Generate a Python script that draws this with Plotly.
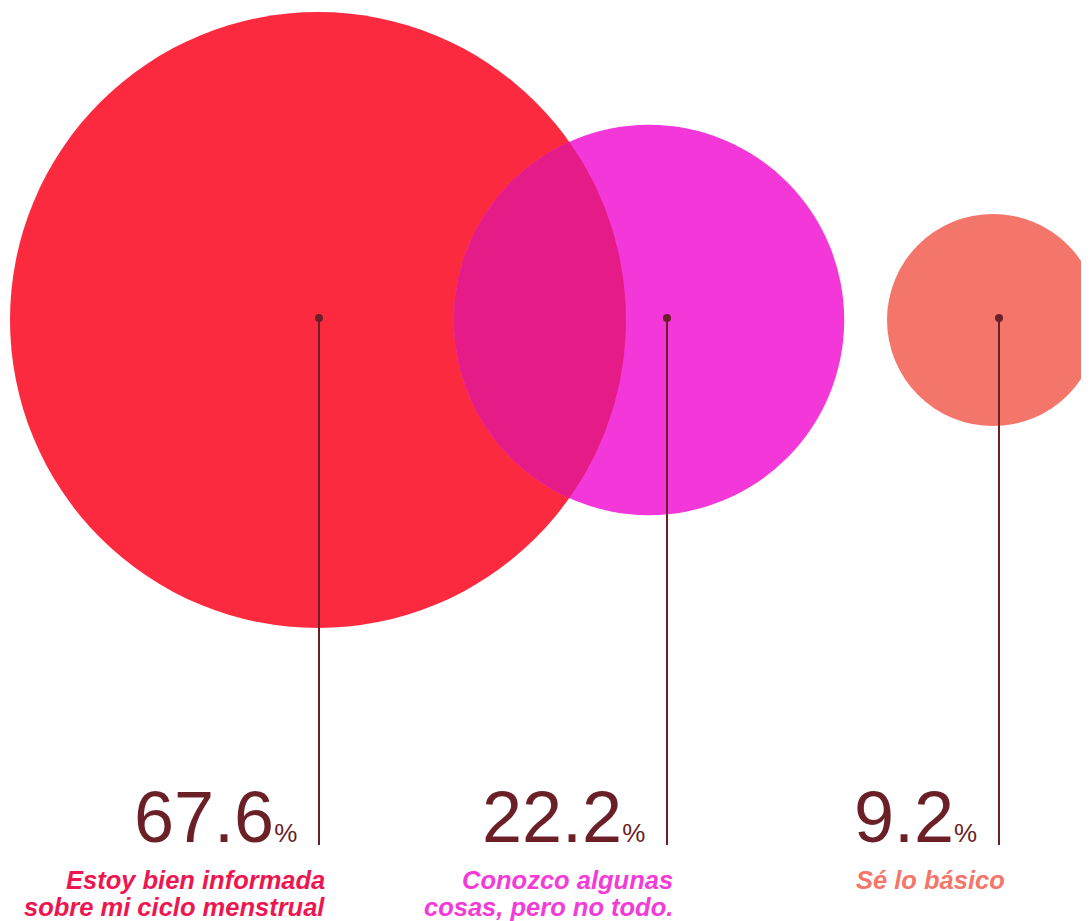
import math
import plotly.graph_objects as go

# ---- data ----
categories = ["Estoy bien informada<br>sobre mi ciclo menstrual",
              "Conozco algunas<br>cosas, pero no todo.",
              "Sé lo básico"]
values = [67.6, 22.2, 9.2]
value_labels = ["67.6", "22.2", "9.2"]

# ---- styles / layout constants ----
W, H = 1089, 921
PAGE_MARGIN = 8  # default body margin of the html page
circle_colors = ["#FC2A3F", "#F437D8", "#F4756A"]
overlap_color = "#E51C88"
label_colors = ["#EE1650", "#F43BD8", "#F4766A"]
dark = "#6B1F27"
circle_cx = [318, 649, 993]
circle_cy = 320
stem_x = [319, 667, 999]
stem_top = 318
stem_bottom = 845
label_y = 896
label_line_gap = 27

# log radius scale (domain -> px range)
dmin, dmax = min(values), max(values)
rmin, rmax = 106, 308


def radius(v):
    t = (math.log(v) - math.log(dmin)) / (math.log(dmax) - math.log(dmin))
    return rmin + t * (rmax - rmin)


def arc(cx, cy, r, a0, a1, n=120):
    pts = []
    for k in range(n + 1):
        a = a0 + (a1 - a0) * k / n
        pts.append((cx + r * math.cos(a), cy + r * math.sin(a)))
    return pts


fig = go.Figure()

radii = [radius(v) for v in values]
for i, v in enumerate(values):
    fig.add_trace(go.Scatter(
        x=[circle_cx[i]], y=[circle_cy], mode="markers",
        marker=dict(size=2 * radii[i], sizemode="diameter", color=circle_colors[i],
                    line=dict(width=0)),
        hoverinfo="skip", showlegend=False))

# overlap (lens) between first two circles
x1, x2 = circle_cx[0], circle_cx[1]
r1, r2 = radii[0], radii[1]
d = x2 - x1
a = (d * d - r2 * r2 + r1 * r1) / (2 * d)
h = math.sqrt(max(r1 * r1 - a * a, 0))
t1 = math.atan2(h, a)             # angle on circle 1 to intersection
t2 = math.atan2(h, a - d)         # angle on circle 2 to intersection
pts = arc(x1, circle_cy, r1, -t1, t1) + arc(x2, circle_cy, r2, t2, 2 * math.pi - t2)
fig.add_trace(go.Scatter(
    x=[p[0] for p in pts], y=[p[1] for p in pts], mode="lines", fill="toself",
    fillcolor=overlap_color, line=dict(width=0, color=overlap_color),
    hoverinfo="skip", showlegend=False))

for i, v in enumerate(values):
    fig.add_trace(go.Scatter(
        x=[stem_x[i], stem_x[i]], y=[stem_top, stem_bottom], mode="lines",
        line=dict(color=dark, width=2), hoverinfo="skip", showlegend=False))
    fig.add_trace(go.Scatter(
        x=[stem_x[i]], y=[stem_top], mode="markers",
        marker=dict(size=8, color=dark, line=dict(width=0)),
        hoverinfo="skip", showlegend=False))

annotations = []
for i, v in enumerate(values):
    annotations.append(dict(
        x=stem_x[i] - 20, y=stem_bottom + 14, xref="x", yref="y",
        xanchor="right", yanchor="bottom", showarrow=False,
        text=value_labels[i] + "<span style='font-size:26px'>%</span>",
        font=dict(family="Liberation Sans, Arial", size=72, color=dark)))
    lines = categories[i].split("<br>")
    for j, line in enumerate(lines):
        annotations.append(dict(
            x=stem_x[i] + 8, y=label_y, xref="x", yref="y",
            yshift=-label_line_gap * j,
            xanchor="right", yanchor="bottom", showarrow=False,
            text=line,
            font=dict(family="Liberation Sans, Arial", size=25.5,
                      color=label_colors[i], weight="bold", style="italic")))

fig.update_layout(
    width=W - PAGE_MARGIN, height=H - PAGE_MARGIN,
    margin=dict(l=0, r=0, t=0, b=0),
    paper_bgcolor="white", plot_bgcolor="white",
    xaxis=dict(range=[PAGE_MARGIN, W], visible=False, fixedrange=True),
    yaxis=dict(range=[H, PAGE_MARGIN], visible=False, fixedrange=True),
    annotations=annotations, showlegend=False)

fig.write_html("out.html")
